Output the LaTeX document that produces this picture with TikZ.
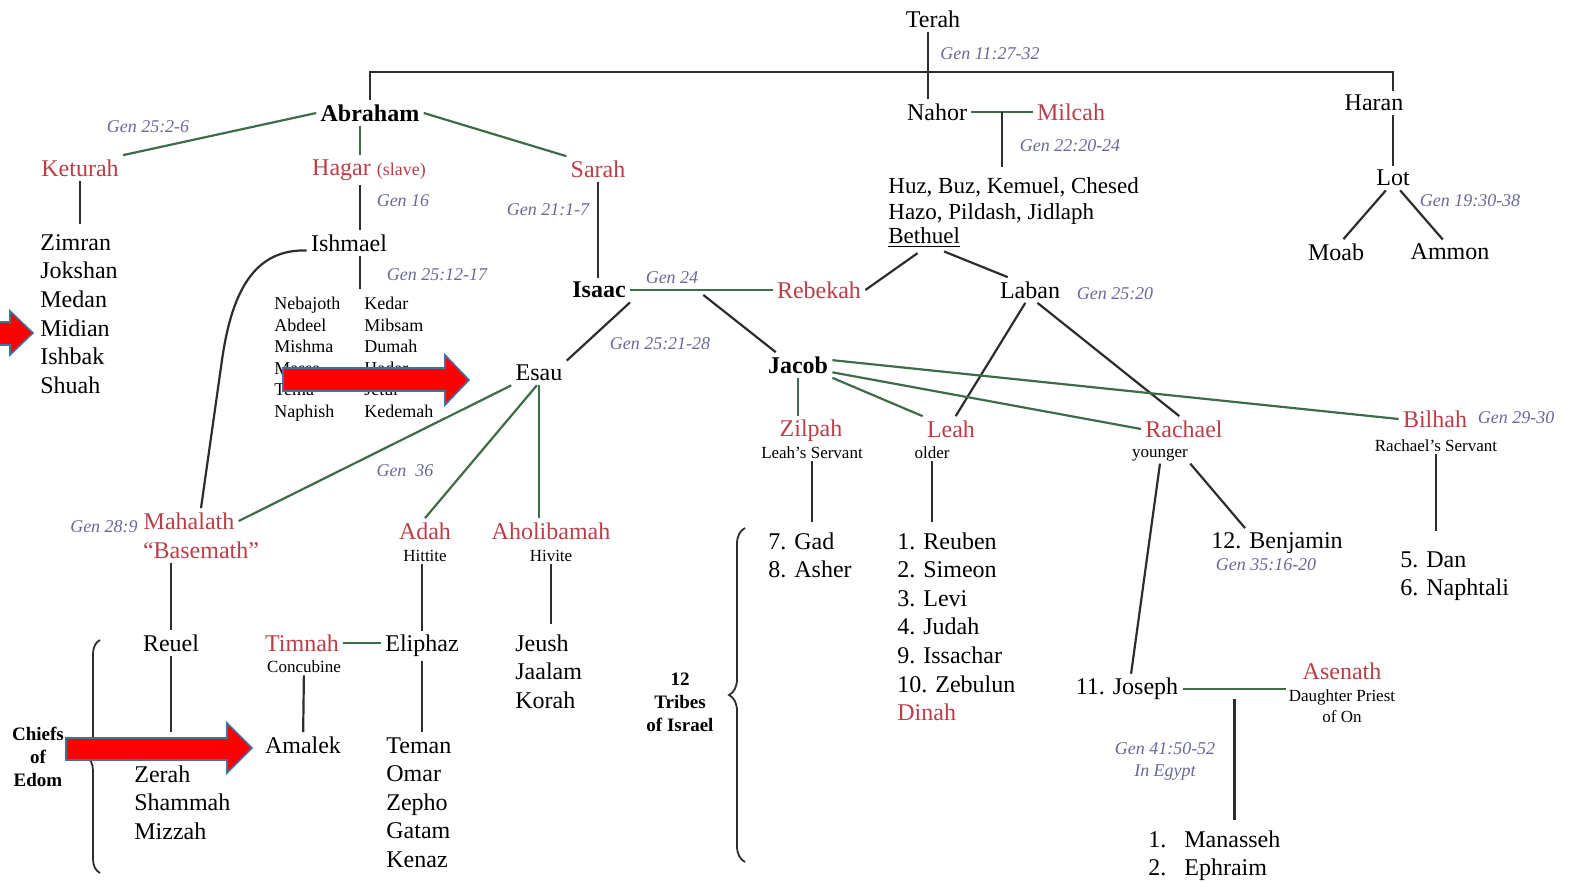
\documentclass[tikz,border=0pt]{standalone}
\usepackage{fontspec}
\setmainfont{Liberation Serif}
\usetikzlibrary{calc,decorations.pathreplacing}
\definecolor{wifered}{RGB}{185,62,72}
\definecolor{refblue}{RGB}{105,105,150}
\definecolor{kingray}{RGB}{45,45,45}
\definecolor{wedgreen}{RGB}{62,108,72}
\definecolor{arrowblue}{RGB}{65,113,156}
\tikzset{
  person/.style={font=\fontsize{12}{14.3}\selectfont, inner sep=2pt},
  wife/.style={person, text=wifered},
  patriarch/.style={person, font=\bfseries\fontsize{12}{14.3}\selectfont},
  ref/.style={font=\itshape\fontsize{9}{11}\selectfont, text=refblue, inner sep=1pt},
  note/.style={font=\fontsize{8.5}{10.5}\selectfont, inner sep=1pt},
  sons/.style={font=\fontsize{12}{14.3}\selectfont, align=left, anchor=north west, inner sep=0pt},
  fewsons/.style={font=\fontsize{9}{10.75}\selectfont, align=left, anchor=north west, inner sep=0pt},
  caption/.style={font=\bfseries\fontsize{9.5}{11.5}\selectfont, align=center},
  kin/.style={draw=kingray, line width=1.1pt},
  wed/.style={draw=wedgreen, line width=1.1pt},
  redarrow/.style={fill=red, draw=arrowblue, line width=0.8pt, line join=miter},
}
\begin{document}
\begin{tikzpicture}[x=0.5pt, y=-0.5pt]
    \useasboundingbox (0,0) rectangle (1571,882);
    \node[person] (terah) at (933,19) {Terah};
    \node[ref, anchor=west] (g1) at (938,54) {Gen 11:27-32};
    \node[patriarch] (abraham) at (370,113) {Abraham};
    \node[person] (nahor) at (937,112) {Nahor};
    \node[wife] (milcah) at (1071,112) {Milcah};
    \node[person] (haran) at (1374,103) {Haran};
    \coordinate (bar) at (928,72);

    \node[ref] (g2) at (1070,146) {Gen 22:20-24};
    \node[sons, font=\fontsize{11.5}{13}\selectfont] (huz) at (888,177) {Huz, Buz, Kemuel, Chesed\\Hazo, Pildash, Jidlaph};
    \node[person, anchor=west, inner sep=0pt, font=\fontsize{11.5}{13}\selectfont] (bethuel) at (888,238) {\underline{Bethuel}};
    \node[person] (laban) at (1030,290) {Laban};
    \node[ref] (g3) at (1115,294) {Gen 25:20};

    \node[person] (lot) at (1393,178) {Lot};
    \node[ref] (g4) at (1470,201) {Gen 19:30-38};
    \node[person] (moab) at (1336,252) {Moab};
    \node[person] (ammon) at (1450,252) {Ammon};

    \node[ref] (g5) at (148,127) {Gen 25:2-6};
    \node[wife] (keturah) at (80,168) {Keturah};
    \node[sons] (ketsons) at (40,234) {Zimran\\Jokshan\\Medan\\Midian\\Ishbak\\Shuah};
    \node[wife] (hagar) at (369,170) {Hagar {\fontsize{9}{11}\selectfont(slave)}};
    \node[ref] (g6) at (403,201) {Gen 16};
    \node[person] (ishmael) at (349,243) {Ishmael};
    \node[ref] (g7) at (437,275) {Gen 25:12-17};
    \node[fewsons] (ishsonsa) at (274,297) {Nebajoth\\Abdeel\\Mishma\\Massa\\Tema\\Naphish};
    \node[fewsons] (ishsonsb) at (364,297) {Kedar\\Mibsam\\Dumah\\Hadar\\Jetur\\Kedemah};
    \node[wife] (sarah) at (598,169) {Sarah};
    \node[ref] (g8) at (548,210) {Gen 21:1-7};
    \node[patriarch] (isaac) at (599,290) {Isaac};
    \node[ref] (g9) at (672,278) {Gen 24};
    \node[wife] (rebekah) at (819,290) {Rebekah};
    \node[ref] (g10) at (660,344) {Gen 25:21-28};
    \node[person] (esau) at (539,373) {Esau};
    \node[patriarch] (jacob) at (798,365) {Jacob};

    \node[ref] (g11) at (405,471) {Gen\ \ 36};
    \node[ref] (g12) at (104,527) {Gen 28:9};
    \node[wife] (mahalath) at (189,521) {Mahalath};
    \node[wife] (basemath) at (201,550) {“Basemath”};
    \node[wife] (adah) at (425,531) {Adah};
    \node[note] (hittite) at (425,556) {Hittite};
    \node[wife] (aholi) at (551,531) {Aholibamah};
    \node[note] (hivite) at (551,556) {Hivite};
    \node[person] (reuel) at (171,643) {Reuel};
    \node[sons] (reuelsons) at (134,765) {Zerah\\Shammah\\Mizzah};
    \node[wife] (timnah) at (302,643) {Timnah};
    \node[note] (concubine) at (304,667) {Concubine};
    \node[person] (eliphaz) at (422,646) {Eliphaz};
    \node[person] (amalek) at (303,745) {Amalek};
    \node[sons] (eliphazsons) at (386,737) {Teman\\Omar\\Zepho\\Gatam\\Kenaz};
    \node[sons] (aholisons) at (515,634) {Jeush\\Jaalam\\Korah};
    \node[caption] (chiefs) at (38,757) {Chiefs\\of\\Edom};

    \node[wife] (zilpah) at (811,431) {Zilpah};
    \node[note] (zilpahnote) at (812,453) {Leah's Servant};
    \node[wife] (leah) at (951,429) {Leah};
    \node[note] (older) at (932,453) {older};
    \node[wife] (rachael) at (1184,429) {Rachael};
    \node[note] (younger) at (1160,455) {younger};
    \node[wife] (bilhah) at (1435,419) {Bilhah};
    \node[ref] (g13) at (1516,418) {Gen 29-30};
    \node[note] (bilhahnote) at (1436,446) {Rachael's Servant};
    \node[sons] (zilpahsons) at (768,532) {7. Gad\\8. Asher};
    \node[sons] (leahsons) at (897,532) {1. Reuben\\2. Simeon\\3. Levi\\4. Judah\\9. Issachar\\10. Zebulun\\\textcolor{wifered}{Dinah}};
    \node[person] (benjamin) at (1277,543) {12. Benjamin};
    \node[ref] (g14) at (1266,565) {Gen 35:16-20};
    \node[sons] (bilhahsons) at (1400,551) {5. Dan\\6. Naphtali};
    \node[caption] (tribes) at (680,702) {12\\Tribes\\of Israel};
    \node[person] (joseph) at (1127,689) {11. Joseph};
    \node[wife] (asenath) at (1342,671) {Asenath};
    \node[note, align=center] (priest) at (1342,706) {Daughter Priest\\of On};
    \node[ref, align=center] (g15) at (1165,761) {Gen 41:50-52\\In Egypt};
    \node[sons] (josephsons) at (1148,830) {\makebox[18pt][l]{1.}Manasseh\\\makebox[18pt][l]{2.}Ephraim};

    \draw[kin] (abraham.north) |- (bar) -| (haran.north -| lot.north);
    \draw[kin] (terah.south -| bar) -- (bar |- nahor.north);
    \draw[kin] (haran.south -| lot.north) -- (lot.north);
    \draw[kin] (lot.240) -- (moab.60);
    \draw[kin] (lot.300) -- (ammon.120);
    \draw[wed] (nahor) -- (milcah);
    \coordinate (nm) at ($(nahor.east)!0.5!(milcah.west)$);
    \draw[kin, shorten >=5pt] (nm) -- (nm |- huz.north);
    \draw[kin, shorten <=4pt] (bethuel.south) -- (rebekah.east);
    \draw[kin, shorten <=4pt] (bethuel.-40) -- (laban.150);
    \draw[kin] (laban.250) -- (leah.70);
    \draw[kin] (laban.300) -- (rachael.110);

    \draw[wed] (abraham.west) -- (keturah.north east);
    \coordinate (hagarline) at ($(hagar.north)+(-9,0)$);
    \draw[wed] (abraham.south -| hagarline) -- (hagarline);
    \draw[kin] (hagar.south -| hagarline) -- (ishmael.north -| hagarline);
    \draw[kin, shorten >=4pt] (ishmael.south -| hagarline) -- (ishsonsb.north -| hagarline);
    \draw[wed] (abraham.east) -- (sarah.north west);
    \draw[kin, shorten >=5pt] (keturah.south) -- (keturah.south |- ketsons.north);
    \draw[kin] (ishmael.190) .. controls (255,249) and (232,290) .. (222,360) -- ($(mahalath.north)+(12,0)$);
    \draw[kin] (sarah.south) -- (sarah.south |- isaac.north);
    \draw[wed] (isaac) -- (rebekah);
    \coordinate (ir) at ($(isaac.east)!0.47!(rebekah.west)$);
    \draw[kin] (isaac.south east) -- (esau.north east);
    \draw[kin, shorten <=4pt] (ir) -- (jacob.150);

    \draw[wed] (esau.south west) -- (mahalath.east);
    \draw[wed] (esau.260) -- (adah.north);
    \draw[wed] (esau.south) -- (esau.south |- aholi.north);
    \draw[kin] (basemath.south -| reuel.north) -- (reuel.north);
    \draw[kin] (reuel.south) -- (reuel.south |- amalek.north);
    \draw[kin] (eliphaz.north |- hittite.south) -- (eliphaz.north);
    \draw[wed] (timnah) -- (timnah -| eliphaz.west);
    \draw[kin] (eliphaz.south) -- (eliphaz.south |- amalek.north);
    \draw[kin] (concubine) -- (amalek);
    \draw[kin, shorten >=5pt] (hivite.south) -- (hivite.south |- aholisons.north);

    \draw[wed] (jacob.south) -- (jacob.south |- zilpah.north);
    \draw[wed] (jacob.south east) -- (leah.north west);
    \draw[wed] (jacob.-12) -- (rachael.west);
    \draw[wed] (jacob.8) -- (bilhah.west);
    \draw[kin, shorten >=5pt] (zilpahnote.south) -- (zilpahnote.south |- zilpahsons.north);
    \draw[kin, shorten >=5pt] (older.south) -- (older.south |- leahsons.north);
    \draw[kin] (younger.south) -- (joseph.75);
    \draw[kin] (younger.south east) -- (benjamin.155);
    \draw[kin, shorten >=10pt] (bilhahnote.south) -- (bilhahnote.south |- bilhahsons.north);
    \draw[wed] (joseph.east) -- (joseph.east -| priest.west);
    \coordinate (jp) at ($(joseph.east)!0.5!(joseph.east -| priest.west)$);
    \draw[kin, shorten <=5pt, shorten >=5pt] (jp) -- (jp |- josephsons.north);

    \draw[kin, line width=0.9pt, decorate, decoration={brace, amplitude=7pt}] (100,873) -- (100,640);
    \draw[kin, line width=0.9pt, decorate, decoration={brace, amplitude=8pt}] (745,862) -- (745,528);

    \draw[redarrow] (-5,322) -- (10,322) -- (10,311) -- (33,333) -- (10,355) -- (10,345) -- (-5,345) -- cycle;
    \draw[redarrow] (283,368) -- (445,368) -- (445,355) -- (469,380) -- (445,405) -- (445,391) -- (283,391) -- cycle;
    \draw[redarrow] (66,738) -- (227,738) -- (227,723) -- (252,748) -- (227,773) -- (227,760) -- (66,760) -- cycle;
\end{tikzpicture}
\end{document}
